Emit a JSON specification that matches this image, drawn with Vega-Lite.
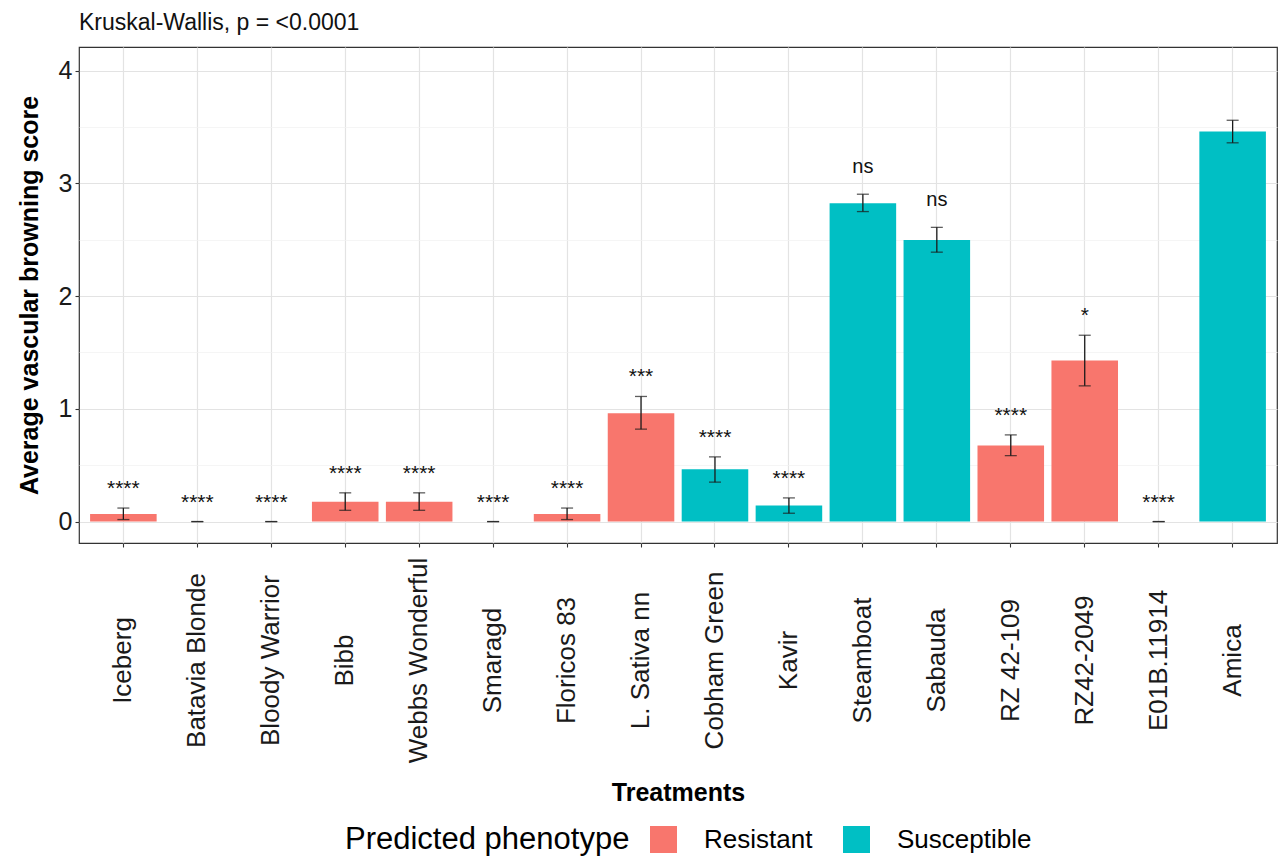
{
  "$schema": "https://vega.github.io/schema/vega-lite/v6.json",
  "width": 1198,
  "height": 496,
  "autosize": {"type": "none"},
  "padding": {"left": 79, "top": 47, "right": 10, "bottom": 316},
  "background": "white",
  "title": {
    "text": "Kruskal-Wallis, p = <0.0001",
    "anchor": "start",
    "frame": "group",
    "font": "Liberation Sans",
    "fontSize": 23,
    "fontWeight": "normal",
    "color": "#111111",
    "baseline": "alphabetic",
    "offset": 18,
    "dy": 24
  },
  "config": {
    "font": "Liberation Sans",
    "view": {"stroke": "#333333", "strokeWidth": 1.2}
  },
  "data": {
    "values": [
      {"treatment": "Iceberg", "phenotype": "Resistant", "mean": 0.067, "lower": 0.018, "upper": 0.12, "sig": "****"},
      {"treatment": "Batavia Blonde", "phenotype": "Resistant", "mean": 0, "lower": 0, "upper": 0, "sig": "****"},
      {"treatment": "Bloody Warrior", "phenotype": "Resistant", "mean": 0, "lower": 0, "upper": 0, "sig": "****"},
      {"treatment": "Bibb", "phenotype": "Resistant", "mean": 0.175, "lower": 0.1, "upper": 0.255, "sig": "****"},
      {"treatment": "Webbs Wonderful", "phenotype": "Resistant", "mean": 0.175, "lower": 0.1, "upper": 0.255, "sig": "****"},
      {"treatment": "Smaragd", "phenotype": "Resistant", "mean": 0, "lower": 0, "upper": 0, "sig": "****"},
      {"treatment": "Floricos 83", "phenotype": "Resistant", "mean": 0.067, "lower": 0.018, "upper": 0.12, "sig": "****"},
      {"treatment": "L. Sativa nn", "phenotype": "Resistant", "mean": 0.96, "lower": 0.82, "upper": 1.11, "sig": "***"},
      {"treatment": "Cobham Green", "phenotype": "Susceptible", "mean": 0.465, "lower": 0.35, "upper": 0.574, "sig": "****"},
      {"treatment": "Kavir", "phenotype": "Susceptible", "mean": 0.142, "lower": 0.074, "upper": 0.21, "sig": "****"},
      {"treatment": "Steamboat", "phenotype": "Susceptible", "mean": 2.824, "lower": 2.75, "upper": 2.904, "sig": "ns"},
      {"treatment": "Sabauda", "phenotype": "Susceptible", "mean": 2.499, "lower": 2.39, "upper": 2.61, "sig": "ns"},
      {"treatment": "RZ 42-109", "phenotype": "Resistant", "mean": 0.674, "lower": 0.585, "upper": 0.769, "sig": "****"},
      {"treatment": "RZ42-2049", "phenotype": "Resistant", "mean": 1.428, "lower": 1.204, "upper": 1.653, "sig": "*"},
      {"treatment": "E01B.11914", "phenotype": "Resistant", "mean": 0, "lower": 0, "upper": 0, "sig": "****"},
      {"treatment": "Amica", "phenotype": "Susceptible", "mean": 3.46, "lower": 3.36, "upper": 3.56, "sig": ""}
    ]
  },
  "encoding": {
    "x": {
      "field": "treatment",
      "type": "nominal",
      "sort": null,
      "scale": {"paddingInner": 0.1, "paddingOuter": 0.15},
      "axis": {
        "title": "Treatments",
        "titleFont": "Liberation Sans",
        "titleFontSize": 25,
        "titleFontWeight": "bold",
        "titleColor": "#000000",
        "titleBaseline": "alphabetic",
        "titleY": 257,
        "labelAngle": -90,
        "labelAlign": "center",
        "labelBaseline": "middle",
        "labelFontSize": 26,
        "labelColor": "#1a1a1a",
        "labelPadding": 113,
        "labelOverlap": false,
        "labelLimit": 400,
        "bandPosition": 0.5,
        "grid": true,
        "gridColor": "#e3e3e3",
        "gridWidth": 1.2,
        "domain": false,
        "ticks": true,
        "tickSize": 4,
        "tickColor": "#333333",
        "tickWidth": 1.1
      }
    }
  },
  "layer": [
    {
      "mark": {"type": "bar"},
      "encoding": {
        "y": {
          "field": "mean",
          "type": "quantitative",
          "scale": {"domain": [-0.19, 4.21], "nice": false, "zero": false},
          "axis": {
            "title": "Average vascular browning score",
            "titleFont": "Liberation Sans",
            "titleFontSize": 25,
            "titleFontWeight": "bold",
            "titleColor": "#000000",
            "titleBaseline": "alphabetic",
            "titleX": -42,
            "values": [0, 0.5, 1, 1.5, 2, 2.5, 3, 3.5, 4],
            "labelExpr": "datum.value % 1 === 0 ? format(datum.value, 'd') : ''",
            "labelFontSize": 25,
            "labelColor": "#1a1a1a",
            "labelPadding": 3,
            "grid": true,
            "gridColor": {"condition": {"test": "datum.value % 1 !== 0", "value": "#f0f0f0"}, "value": "#e3e3e3"},
            "gridWidth": {"condition": {"test": "datum.value % 1 !== 0", "value": 0.7}, "value": 1.2},
            "domain": false,
            "tickSize": 4,
            "tickColor": "#333333",
            "tickWidth": 1.1,
            "tickOpacity": {"condition": {"test": "datum.value % 1 !== 0", "value": 0}, "value": 1}
          }
        },
        "color": {
          "field": "phenotype",
          "type": "nominal",
          "scale": {"domain": ["Resistant", "Susceptible"], "range": ["#F8766D", "#00BFC4"]},
          "legend": {
            "title": "Predicted phenotype",
            "orient": "none",
            "legendX": 266,
            "legendY": 779,
            "direction": "horizontal",
            "titleOrient": "left",
            "titleFont": "Liberation Sans",
            "titleFontSize": 31,
            "titleFontWeight": "normal",
            "titleColor": "#000000",
            "titleBaseline": "middle",
            "titleLimit": 500,
            "titlePadding": 20,
            "labelFont": "Liberation Sans",
            "labelFontSize": 26,
            "labelColor": "#000000",
            "labelLimit": 300,
            "labelOffset": 27,
            "columnPadding": 30,
            "symbolType": "square",
            "symbolSize": 729,
            "symbolStrokeWidth": 0,
            "symbolOpacity": 1
          }
        }
      }
    },
    {
      "mark": {"type": "rule", "color": "#1a1a1a", "strokeWidth": 1.3},
      "encoding": {
        "y": {"field": "lower", "type": "quantitative"},
        "y2": {"field": "upper"}
      }
    },
    {
      "mark": {"type": "tick", "color": "#1a1a1a", "thickness": 1.3, "size": 12},
      "encoding": {"y": {"field": "upper", "type": "quantitative"}}
    },
    {
      "mark": {"type": "tick", "color": "#1a1a1a", "thickness": 1.3, "size": 12},
      "encoding": {"y": {"field": "lower", "type": "quantitative"}}
    },
    {
      "transform": [{"filter": "datum.sig !== '' && datum.sig !== 'ns'"}],
      "mark": {"type": "text", "font": "Liberation Sans", "fontSize": 21, "color": "#111111", "baseline": "alphabetic", "dy": -13},
      "encoding": {
        "y": {"field": "upper", "type": "quantitative"},
        "text": {"field": "sig"}
      }
    },
    {
      "transform": [{"filter": "datum.sig === 'ns'"}],
      "mark": {"type": "text", "font": "Liberation Sans", "fontSize": 20, "color": "#111111", "baseline": "alphabetic", "dy": -21},
      "encoding": {
        "y": {"field": "upper", "type": "quantitative"},
        "text": {"field": "sig"}
      }
    }
  ]
}
